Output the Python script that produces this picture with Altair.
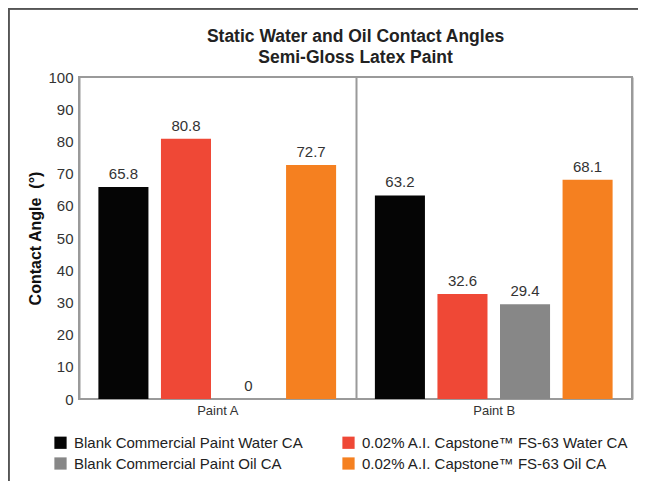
import altair as alt
import pandas as pd

paints = ["Paint A", "Paint B"]
series = [
    "Blank Commercial Paint Water CA",
    "0.02% A.I. Capstone™ FS-63 Water CA",
    "Blank Commercial Paint Oil CA",
    "0.02% A.I. Capstone™ FS-63 Oil CA",
]
colors = ["#050505", "#EF4836", "#878787", "#F58020"]
paint_a = [65.8, 80.8, 0, 72.7]
paint_b = [63.2, 32.6, 29.4, 68.1]
y_ticks = [0, 10, 20, 30, 40, 50, 60, 70, 80, 90, 100]

rows = []
for s, a, b in zip(series, paint_a, paint_b):
    rows.append({"paint": "Paint A", "series": s, "value": a})
    rows.append({"paint": "Paint B", "series": s, "value": b})
df = pd.DataFrame(rows)

FONT = "Liberation Sans"

x_axis = alt.Axis(title=None, labelAngle=0, labelFontSize=13, labelColor="#333333",
                  labelFont=FONT, ticks=False, domain=False, labelPadding=5,
                  grid=True, tickBand="extent", gridColor="#9a9a9a", gridWidth=2,
                  gridOpacity=1)
y_axis = alt.Axis(title="Contact Angle\u00a0\u00a0(°)", values=y_ticks,
                  labelOverlap=False,
                  ticks=False, domain=False, grid=False, labelFontSize=15,
                  labelColor="#333333", labelFont=FONT, labelPadding=6,
                  titleFont=FONT, titleFontSize=16, titleFontWeight="bold",
                  titleColor="#111111", titlePadding=4)
x = alt.X("paint:N", sort=paints, scale=alt.Scale(paddingInner=0, paddingOuter=0), axis=x_axis)
xo = alt.XOffset("series:N", sort=series,
                 scale=alt.Scale(paddingInner=0.2, paddingOuter=0.31))
y = alt.Y("value:Q", scale=alt.Scale(domain=[0, 100], nice=False), axis=y_axis)

bars = alt.Chart(df).mark_bar().encode(
    x=x, xOffset=xo, y=y,
    color=alt.Color("series:N", sort=series,
                    scale=alt.Scale(domain=series, range=colors),
                    legend=alt.Legend(title=None, orient="none", legendX=-26, legendY=358,
                                      direction="horizontal",
                                      columns=2, columnPadding=38, rowPadding=5,
                                      symbolType="square", symbolSize=150,
                                      symbolStrokeWidth=0, symbolOpacity=1,
                                      labelFontSize=15, labelFont=FONT, labelLimit=0,
                                      labelColor="#222222", labelOffset=6)),
)

labels = alt.Chart(df).mark_text(baseline="bottom", dy=-5, fontSize=15, font=FONT,
                                 color="#333333").encode(
    x=x, xOffset=xo, y=y, text=alt.Text("value:Q", format=".1~f"),
)

frame_top = alt.Chart(df).mark_rule(color="#555555", strokeWidth=1.5).encode(
    x=alt.value(-71), x2=alt.value(600), y=alt.value(-68.5))
frame_left = alt.Chart(df).mark_rule(color="#555555", strokeWidth=1.5).encode(
    x=alt.value(-70.5), y=alt.value(-69), y2=alt.value(410))

chart = alt.layer(bars, labels, frame_top, frame_left).properties(
    width=553, height=322,
    autosize=alt.AutoSizeParams(type="none"),
    padding={"left": 71, "top": 69, "right": 6, "bottom": 82},
    title=alt.Title(["Static Water and Oil Contact Angles", "Semi-Gloss Latex Paint"],
                    font=FONT, fontSize=17.5, fontWeight="bold", color="#222222",
                    anchor="middle", offset=0, lineHeight=21, frame="group", dy=59),
).configure_view(stroke="#9a9a9a", strokeWidth=2).configure_legend(padding=0)

chart.save("out.html", embed_options={"renderer": "svg", "actions": False})
